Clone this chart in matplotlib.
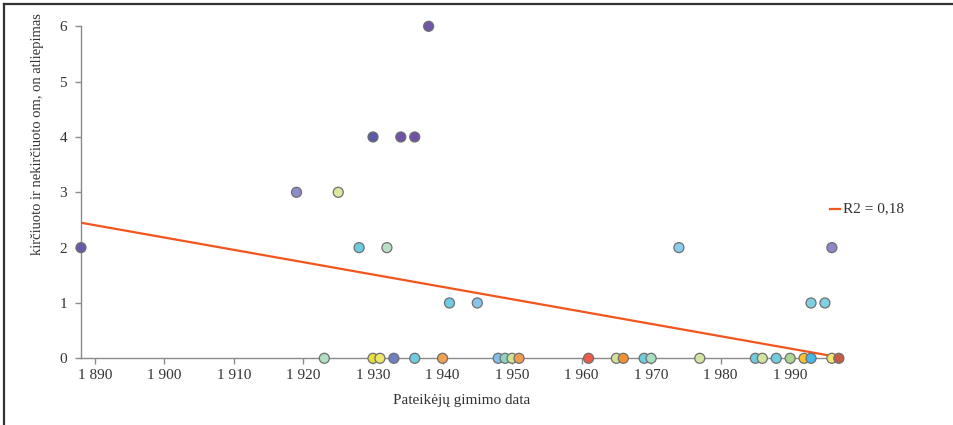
import numpy as np
import matplotlib
matplotlib.use("Agg")
import matplotlib.pyplot as plt
from matplotlib.lines import Line2D

# Birth year of each informant and number of responses
years = [1888, 1919, 1925, 1930, 1934, 1936, 1938, 1928, 1932, 1941, 1945,
         1974, 1996, 1993, 1995,
         1923, 1930, 1931, 1933, 1936, 1940, 1948, 1949, 1950, 1951, 1961,
         1965, 1966, 1969, 1970, 1977, 1985, 1986, 1988, 1990, 1992, 1993,
         1996, 1997]
counts = [2, 3, 3, 4, 4, 4, 6, 2, 2, 1, 1,
          2, 2, 1, 1,
          0, 0, 0, 0, 0, 0, 0, 0, 0, 0, 0,
          0, 0, 0, 0, 0, 0, 0, 0, 0, 0, 0,
          0, 0]
colors = ["#6a58a8", "#8c8cc8", "#dce89c", "#5a5aa6", "#7052a8", "#7052a8",
          "#7056a8", "#6ccde2", "#b8e0c4", "#6ecce4", "#84c6ea",
          "#8acbee", "#8a88c8", "#7ed0e2", "#7ed0e2",
          "#b2dec2", "#e6de3a", "#ece66a", "#6e80c0", "#6ccce0", "#f0a050",
          "#82bee8", "#92d4c2", "#d2e492", "#f09a50", "#ee5a4a",
          "#d2e29a", "#f09232", "#70cce0", "#aadcc2", "#d4e4a2", "#70cce0",
          "#d2e4a2", "#70cce0", "#aad892", "#f8c032", "#44b8e8",
          "#eee872", "#c85a48"]

# Linear trend (end points) and its coefficient of determination
trend_years = [1888, 1997]
trend_values = [2.45, 0.02]
r2_label = "R2 = 0,18"

x_ticks = list(range(1890, 1991, 10))
x_tick_labels = ["1 %d" % (t - 1000) for t in x_ticks]
y_ticks = list(range(0, 7))

plt.rcParams["font.family"] = ["Liberation Serif", "DejaVu Serif"]

fig = plt.figure(figsize=(9.54, 4.25), dpi=100)
ax = fig.add_axes([81 / 954, 1 - 358.3 / 425, (843 - 81) / 954, (358.3 - 26.3) / 425])

ax.plot(trend_years, trend_values, color="#f2561e", lw=1.6, zorder=3,
        solid_capstyle="butt")
ax.scatter(years, counts, s=52, c=colors, edgecolors="#6f6f6f",
           linewidths=0.9, zorder=4, clip_on=False)

ax.set_xlim(1888, 1997.6)
ax.set_ylim(0, 6)
ax.set_xticks(x_ticks)
ax.set_xticklabels(x_tick_labels)
ax.set_yticks(y_ticks)

for side in ("top", "right"):
    ax.spines[side].set_visible(False)
for side in ("left", "bottom"):
    ax.spines[side].set_color("#8a8a8a")
    ax.spines[side].set_linewidth(1.0)
ax.tick_params(axis="both", colors="#8a8a8a", labelcolor="#333333",
               labelsize=11, length=4, width=1.0, direction="out")
ax.tick_params(axis="x", pad=4)
ax.tick_params(axis="y", pad=6)

ax.set_xlabel("Pateikėjų gimimo data", fontsize=11, color="#333333", labelpad=8)
fig.text(38 / 954, 1 - 134 / 425, "kirčiuoto ir nekirčiuoto om, on atliepimas",
         rotation=90, ha="center", va="center", fontsize=10.5, color="#333333")

# Legend entry for the linear trend
fig.add_artist(Line2D([830 / 954, 840 / 954], [1 - 209 / 425] * 2,
                      color="#f2561e", lw=1.6))
fig.text(843 / 954, 1 - 209 / 425, r2_label,
         ha="left", va="center", fontsize=11, color="#333333")

# Frame lines along the top and left edges
fig.add_artist(Line2D([4 / 954, 1], [1 - 3.5 / 425] * 2, color="#333333", lw=1.6))
fig.add_artist(Line2D([4 / 954] * 2, [0, 1 - 3.5 / 425], color="#333333", lw=1.6))

fig.savefig("out.png", dpi=100)
